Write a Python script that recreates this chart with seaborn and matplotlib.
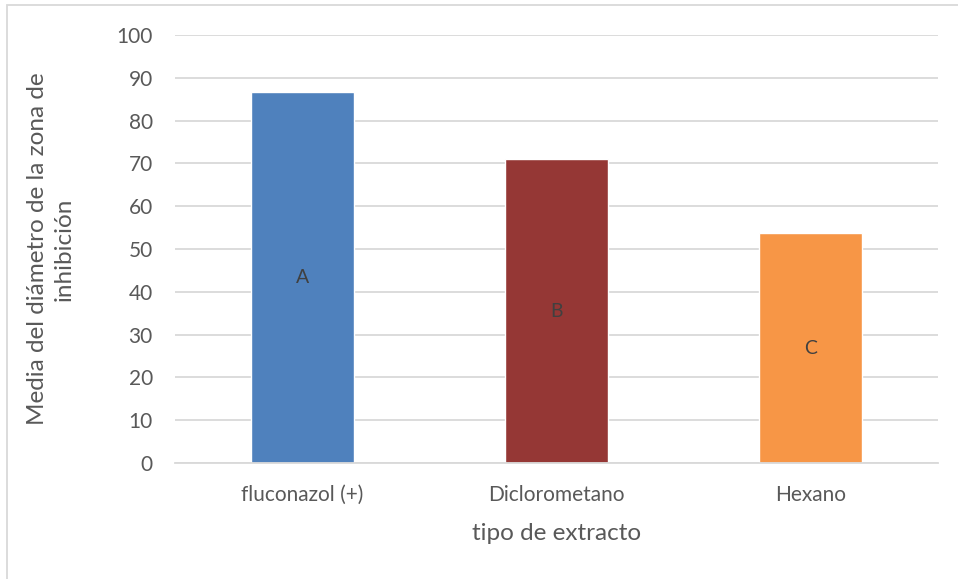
import matplotlib
matplotlib.use("Agg")
import matplotlib.pyplot as plt
import seaborn as sns
import pandas as pd
from matplotlib.patches import Rectangle

categories = ["fluconazol (+)", "Diclorometano", "Hexano"]
values = [86.7, 71.0, 53.7]
letters = ["A", "B", "C"]
colors = ["#4F81BD", "#953735", "#F79646"]
yticks = [0, 10, 20, 30, 40, 50, 60, 70, 80, 90, 100]

sns.set_theme(style="white")
plt.rcParams["font.family"] = ["Lato", "DejaVu Sans"]

text_color = "#595959"
grid_color = "#D9D9D9"

df = pd.DataFrame({"tipo": categories, "valor": values})

fig = plt.figure(figsize=(9.58, 5.79), dpi=100)
fig.patch.set_facecolor("white")

# light frame around the chart area
fig.add_artist(Rectangle((7 / 958, -0.02), 1.1, 1 - 5 / 579 + 0.02,
                         transform=fig.transFigure, fill=False,
                         edgecolor=grid_color, linewidth=1.3))

ax = fig.add_axes([175 / 958, 1 - 463 / 579, 763 / 958, 428 / 579])
sns.barplot(data=df, x="tipo", y="valor", hue="tipo", palette=colors,
            width=0.405, legend=False, ax=ax, saturation=1)

ax.set_ylim(0, 100)
ax.set_xlim(-0.5, 2.5)
ax.set_yticks(yticks)
ax.yaxis.grid(True, color=grid_color, linewidth=1.3)
ax.set_axisbelow(True)
for s in ["top", "right", "left"]:
    ax.spines[s].set_visible(False)
ax.spines["bottom"].set_color(grid_color)
ax.spines["bottom"].set_linewidth(1.3)

ax.tick_params(axis="y", length=0, pad=16, labelsize=15, labelcolor=text_color)
ax.tick_params(axis="x", length=0, pad=16, labelsize=15, labelcolor=text_color)

ax.set_xlabel("tipo de extracto", fontsize=17.5, color=text_color, labelpad=13)
ax.set_ylabel("Media del diámetro de la zona de\ninhibición", fontsize=17.5,
              color=text_color, labelpad=30, linespacing=1.35)

# significance letters placed at mid-height of each bar
for i, (v, lab) in enumerate(zip(values, letters)):
    ax.text(i, v / 2, lab, ha="center", va="center", fontsize=14,
            color="#404040")

fig.savefig("out.png", dpi=100, facecolor="white")
